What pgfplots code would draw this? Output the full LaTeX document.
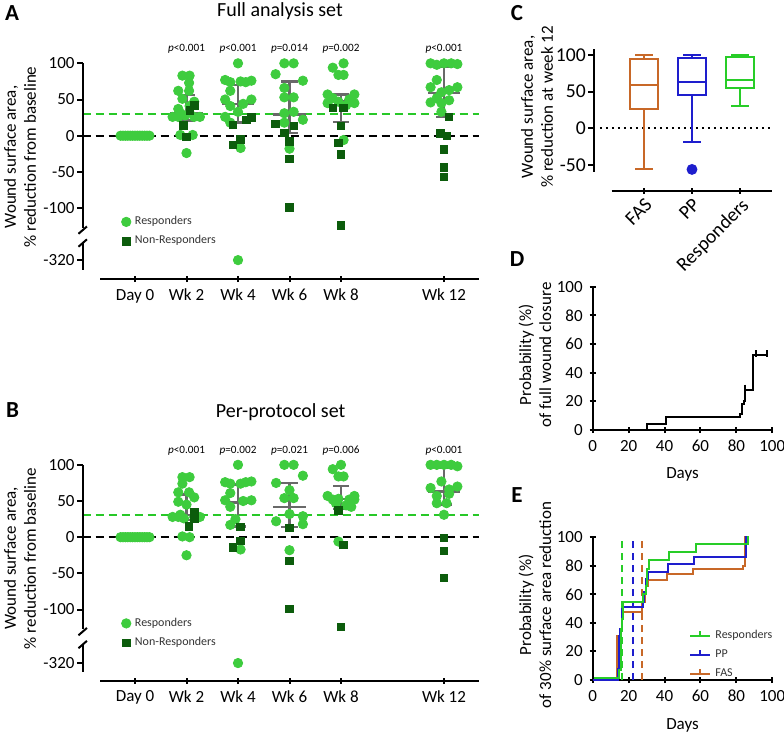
\documentclass[border=0pt]{standalone}
\usepackage{fontspec}
\setmainfont{Carlito}
\usepackage{pgfplots}
\usepackage{pgfplotstable}
\pgfplotsset{compat=1.18}
\usepgfplotslibrary{statistics}

\definecolor{resp}{RGB}{62,204,62}
\definecolor{nonresp}{RGB}{12,92,12}
\definecolor{dashgreen}{RGB}{40,200,40}
\definecolor{errgrey}{RGB}{105,105,105}
\definecolor{fasorange}{RGB}{200,104,40}
\definecolor{ppblue}{RGB}{30,30,205}
\definecolor{rgreen}{RGB}{40,205,40}

\newcommand\ftick{\fontsize{8.5}{10}\selectfont}
\newcommand\ftickC{\fontsize{9.8}{11}\selectfont}
\newcommand\flab{\fontsize{8.5}{10}\selectfont}
\newcommand\fsmall{\fontsize{6}{7.2}\selectfont}
\newcommand\fp{\fontsize{5.6}{6.5}\selectfont}
\newcommand\ftitle{\fontsize{10}{12}\selectfont}
\newcommand\fletter{\fontsize{11.5}{13}\selectfont\bfseries}

% 1 px of the reference = 0.5pt
\pgfplotsset{
  prism/.style={scale only axis, clip=false,
    tick style={line width=1pt,black},
    tick align=outside, major tick length=3pt,
    /pgf/number format/assume math mode=true},
  swarm/.style={prism, anchor=south west,
    width=189.5pt, height=107.83pt,
    xmin=-0.68, xmax=6.68, ymin=-198.1, ymax=100,
    axis x line=bottom, axis y line=none, ytick=\empty,
    axis line style={line width=1pt,-},
    xtick={0,1,2,3,4,6},
    xticklabels={Day 0,Wk 2,Wk 4,Wk 6,Wk 8,Wk 12},
    xticklabel style={font=\ftick},
    legend style={draw=none, fill=none, font=\fsmall, text=black!80,
      at={(0.04,0.33)}, anchor=north west, row sep=0pt},
    legend cell align=left,
    legend image code/.code={\draw[##1] plot coordinates {(0.1cm,0cm)};}},
  km/.style={prism, anchor=south west, width=89.8pt,
    xmin=0, xmax=100, ymin=0, ymax=100, axis lines=left,
    axis line style={line width=1pt,-},
    xtick={0,20,...,100}, ytick={0,20,...,100},
    tick label style={font=\ftick}},
  medbar/.style={forget plot, draw=none, mark=none,
    error bars/error mark=none,
    error bars/error bar style={draw=errgrey, line width=1.25pt, solid}},
}

% broken y axis of panels A and B (#1 = position of -320)
\newcommand\brokenY[1]{%
  \draw[line width=1pt] (axis cs:-1.016,100) -- (axis cs:-1.016,-127.6);
  \draw[line width=1pt] (axis cs:-1.016,-148.8) -- (axis cs:-1.016,-185.7);
  \draw[line width=1pt] (axis cs:-1.098,-135.6) -- (axis cs:-0.934,-125.5);
  \draw[line width=1pt] (axis cs:-1.098,-153.5) -- (axis cs:-0.934,-143.3);
  \pgfplotsinvokeforeach{100,50,0,-50,-100}{%
    \draw[line width=1pt] (axis cs:-1.016,##1) -- ++(-3pt,0pt)
      node[left,inner sep=0.6pt,font=\ftick]{##1};}
  \draw[line width=1pt] (axis cs:-1.016,#1) -- ++(-3pt,0pt)
    node[left,inner sep=0.6pt,font=\ftick]{-320};
}
% median line, whisker and caps from a table x m lo hi
\newcommand\medbars[1]{%
  \addplot[medbar, error bars/y dir=both, error bars/y explicit]
    table[x=x, y=m, y error plus expr=\thisrow{hi}-\thisrow{m},
          y error minus expr=\thisrow{m}-\thisrow{lo}] {#1};
  \addplot[medbar, error bars/x dir=both, error bars/x fixed=0.32] table[x=x, y=m] {#1};
  \addplot[medbar, error bars/x dir=both, error bars/x fixed=0.16] table[x=x, y=hi] {#1};
  \addplot[medbar, error bars/x dir=both, error bars/x fixed=0.16] table[x=x, y=lo] {#1};
}

% ---------- panel A : full analysis set (-320 drawn at -172 on the broken axis)
\pgfplotstableread{
x y
-0.28 0
-0.233 0
-0.187 0
-0.14 0
-0.093 0
-0.047 0
0 0
0.047 0
0.093 0
0.14 0
0.187 0
0.233 0
0.28 0
0.92 83
1.06 83
1.05 73
0.84 62
1.05 62
0.92 51
1.15 47
1.06 41
0.84 37
0.73 26
0.84 26
0.97 28
1.15 26
1.26 26
0.88 31
0.88 1
1.12 1
1.0 -24
2.0 100
1.75 77
1.85 74
2.05 75
2.15 74
2.26 76
1.85 62
1.75 50
2.26 50
2.1 44
1.85 41
2.0 33
1.75 26
1.85 18
2.05 -17
2.0 -172
2.9 100
3.08 100
2.73 85
3.26 76
2.9 66
2.9 53
3.08 53
2.9 31
3.08 33
3.26 22
2.9 18
3.0 -18
4.05 100
3.84 94
3.95 84
4.05 84
3.74 57
4.26 57
3.84 52
4.16 50
3.74 45
4.26 45
3.95 47
4.1 42
4.05 -6
5.74 100
5.86 98
6.0 100
6.14 100
6.26 99
5.86 77
5.74 67
6.26 67
6.1 63
5.95 60
5.86 52
6.1 49
5.74 46
5.95 45
5.95 33
}\respA
\pgfplotstableread{
x y
1.15 42
1.06 35
0.94 14
1.0 -2
2.26 25
2.16 22
1.9 15
2.05 -5
1.9 -13
2.73 16
3.08 13.5
2.9 4
3.0 -8
3.0 -32
3.0 -99
3.84 38
4.05 38
4.0 13.5
3.95 -10
4.0 -26
4.0 -124
6.1 26
5.93 3
6.06 -0.5
6.0 -19
6.0 -44
6.0 -57
}\nonA
\pgfplotstableread{
x m lo hi
1 31 21 56
2 44 18 70
3 29 4 75
4 48 19 57
6 59 26 95
}\errA

% ---------- panel B : per-protocol set (-320 drawn at -174)
\pgfplotstableread{
x y
-0.28 0
-0.233 0
-0.187 0
-0.14 0
-0.093 0
-0.047 0
0 0
0.047 0
0.093 0
0.14 0
0.187 0
0.233 0
0.28 0
0.92 83
1.06 83
0.92 74
0.84 62
1.05 62
1.15 55
0.84 49
1.0 45
0.73 28
0.84 28
0.95 26
1.15 28
1.26 28
0.88 31
0.92 1
1.06 0
1.0 -25
2.0 100
1.75 76
1.85 74
2.15 76
2.26 77
2.05 74
1.85 61
1.75 51
2.26 51
2.1 50
1.85 42
1.95 25
1.85 17
2.05 -17
2.0 -174
2.9 100
3.08 100
3.26 85
2.74 75
3.0 65
2.9 54
3.08 54
3.0 32
3.26 29
2.74 22
3.26 18
3.0 -18
4.0 100
3.84 94
3.95 84
4.05 84
3.74 57
4.26 57
3.84 52
3.95 53
4.16 52
4.26 52
3.9 47
4.1 44
4.2 42
3.95 -6
5.74 100
5.86 100
6.0 100
6.14 100
6.26 98
5.95 77
5.74 68
6.26 70
6.1 66
5.86 57
6.1 60
5.86 47
6.05 47
6.0 31
}\respB
\pgfplotstableread{
x y
1.15 34
1.15 25
1.05 15
2.05 14
2.05 -5
1.9 -14
3.0 13
3.0 -33
3.0 -99
3.95 37
4.05 -11
4.0 -124
6.0 -1
6.0 -19
6.0 -56
}\nonB
\pgfplotstableread{
x m lo hi
1 31 24 59
2 48 15 73
3 42 14 75
4 53 39 71
6 63 45 96
}\errB

\begin{document}
\begin{tikzpicture}
\useasboundingbox (0pt,0pt) rectangle (392pt,-367pt);

%%%%%%%% A
\begin{axis}[swarm, at={(50pt,-139.5pt)}]
\addplot[forget plot, dashgreen, line width=1pt, dash pattern=on 4pt off 2.5pt]
  coordinates {(-1.016,30) (6.68,30)};
\addplot[forget plot, black, line width=1pt, dash pattern=on 4pt off 2.5pt]
  coordinates {(-1.016,0) (6.68,0)};
\addplot[only marks, mark=*, mark size=2.35pt, resp, mark options={draw=resp,fill=resp}]
  table[x=x,y=y] {\respA};
\addplot[only marks, mark=square*, mark size=1.85pt, nonresp, mark options={draw=nonresp,fill=nonresp}]
  table[x=x,y=y] {\nonA};
\medbars{\errA}
\legend{Responders,Non-Responders}
\brokenY{-172}
\node[font=\fp] at (axis cs:1,120) {\textit{p}<0.001};
\node[font=\fp] at (axis cs:2,120) {\textit{p}<0.001};
\node[font=\fp] at (axis cs:3,120) {\textit{p}=0.014};
\node[font=\fp] at (axis cs:4,120) {\textit{p}=0.002};
\node[font=\fp] at (axis cs:6,120) {\textit{p}<0.001};
\end{axis}

%%%%%%%% B
\begin{axis}[swarm, at={(50pt,-340.25pt)}]
\addplot[forget plot, dashgreen, line width=1pt, dash pattern=on 4pt off 2.5pt]
  coordinates {(-1.016,30) (6.68,30)};
\addplot[forget plot, black, line width=1pt, dash pattern=on 4pt off 2.5pt]
  coordinates {(-1.016,0) (6.68,0)};
\addplot[only marks, mark=*, mark size=2.35pt, resp, mark options={draw=resp,fill=resp}]
  table[x=x,y=y] {\respB};
\addplot[only marks, mark=square*, mark size=1.85pt, nonresp, mark options={draw=nonresp,fill=nonresp}]
  table[x=x,y=y] {\nonB};
\medbars{\errB}
\legend{Responders,Non-Responders}
\brokenY{-174}
\node[font=\fp] at (axis cs:1,120) {\textit{p}<0.001};
\node[font=\fp] at (axis cs:2,120) {\textit{p}=0.002};
\node[font=\fp] at (axis cs:3,120) {\textit{p}=0.021};
\node[font=\fp] at (axis cs:4,120) {\textit{p}=0.006};
\node[font=\fp] at (axis cs:6,120) {\textit{p}<0.001};
\end{axis}

%%%%%%%% C
\begin{axis}[prism, anchor=south west, at={(305.85pt,-95.35pt)},
  width=80.3pt, height=70.8pt,
  xmin=0.33, xmax=3.67, ymin=-85, ymax=108,
  axis x line=bottom, axis y line=none, ytick=\empty,
  axis line style={line width=1pt,-},
  xtick={1,2,3}, xticklabels={FAS,PP,Responders},
  xticklabel style={rotate=45, anchor=north east, font=\ftickC, inner sep=1pt},
  boxplot/draw direction=y,
  boxplot/box extend=0.59, boxplot/whisker extend=0.37]
\addplot[forget plot, black, line width=1pt, dash pattern=on 1pt off 2pt]
  coordinates {(0.086,0) (3.67,0)};
\addplot[fasorange, line width=1pt, boxplot prepared={draw position=1,
  median=59, upper quartile=95, lower quartile=27,
  upper whisker=100, lower whisker=-56}] coordinates {};
\addplot[ppblue, line width=1pt, mark=*, mark size=2.2pt,
  mark options={fill=ppblue, draw=ppblue},
  boxplot prepared={draw position=2,
  median=63, upper quartile=96, lower quartile=46,
  upper whisker=100, lower whisker=-19}]
  table[row sep=\\, y index=0] {y\\ -56\\};
\addplot[rgreen, line width=1pt, boxplot prepared={draw position=3,
  median=66, upper quartile=97, lower quartile=55,
  upper whisker=100, lower whisker=31}] coordinates {};
\draw[line width=1pt] (axis cs:-0.039,108) -- (axis cs:-0.039,-59);
\pgfplotsinvokeforeach{100,50,0,-50}{%
  \draw[line width=1pt] (axis cs:-0.039,#1) -- ++(-3pt,0pt)
    node[left,inner sep=0.6pt,font=\ftickC]{#1};}
\end{axis}

%%%%%%%% D
\begin{axis}[km, at={(296.35pt,-215pt)}, height=71.65pt]
\addplot[const plot, black, line width=1pt] coordinates {
  (0,0) (30,4.5) (41,9) (82,11) (83,18) (84,20) (85,28) (89,52) (97,52)};
\addplot[only marks, black, mark=|, mark size=1.6pt, mark options={line width=1pt}]
  coordinates {(85,29.5) (91,53.5) (97,53.5)};
\end{axis}

%%%%%%%% E
\begin{axis}[km, at={(296.35pt,-340pt)}, height=71.35pt,
  legend style={draw=none, fill=none, font=\fsmall, text=black!80,
    at={(0.503,0.406)}, anchor=north west, row sep=0pt},
  legend cell align=left, reverse legend,
  legend image code/.code={\draw[#1, line width=1pt] (0pt,0pt) -- (10pt,0pt);
    \draw[#1, line width=1pt] (5pt,0pt) -- (5pt,2.5pt);}]
\addplot[forget plot, fasorange, line width=1pt, dash pattern=on 3.5pt off 2.5pt]
  coordinates {(27.3,0) (27.3,100)};
\addplot[forget plot, ppblue, line width=1pt, dash pattern=on 3.5pt off 2.5pt]
  coordinates {(22.3,0) (22.3,100)};
\addplot[forget plot, rgreen, line width=1pt, dash pattern=on 3.5pt off 2.5pt]
  coordinates {(16.1,0) (16.1,100)};
\addplot[const plot, fasorange, line width=1pt] coordinates {
  (0,0) (13.4,31) (15.2,36) (16.1,48) (27.3,52) (28.2,55) (29.1,62) (29.7,66)
  (31,70) (41.2,74) (56,78) (83.9,80) (84.8,100) (85.5,100)};
\addplot[const plot, ppblue, line width=1pt] coordinates {
  (0,0) (13.9,8) (14.5,31) (15.2,36) (16.1,50) (16.7,51) (27.8,55) (28.8,62)
  (29.5,71) (30.6,76) (41.7,81) (56.6,86) (85.3,100) (86,100)};
\addplot[const plot, rgreen, line width=1pt] coordinates {
  (0.7,1.5) (14.6,7) (15.5,36) (16.4,43) (17,55) (28.2,60) (29.5,66) (30.4,78)
  (31.3,84) (42.5,90) (57.3,95.5) (86.3,100) (86.8,100)};
\legend{FAS,PP,Responders}
\end{axis}

%%%%%%%% titles, labels, panel letters
\node[font=\fletter] at (6pt,-6.5pt) {A};
\node[font=\fletter] at (6.3pt,-205pt) {B};
\node[font=\fletter] at (258.5pt,-6.5pt) {C};
\node[font=\fletter] at (258.5pt,-129.5pt) {D};
\node[font=\fletter] at (258.5pt,-247.5pt) {E};
\node[font=\ftitle] at (140pt,-5.35pt) {Full analysis set};
\node[font=\ftitle] at (140.3pt,-206.2pt) {Per-protocol set};
\node[font=\flab, rotate=90, align=center] at (10pt,-78.5pt)
  {Wound surface area,\\\% reduction from baseline};
\node[font=\flab, rotate=90, align=center] at (10pt,-279.25pt)
  {Wound surface area,\\\% reduction from baseline};
\node[font=\flab, rotate=90, align=center] at (268.5pt,-53.5pt)
  {Wound surface area,\\\% reduction at week 12};
\node[font=\flab, rotate=90, align=center] at (267.5pt,-177.5pt)
  {Probability (\%)\\of full wound closure};
\node[font=\flab, rotate=90, align=center] at (267.5pt,-302.5pt)
  {Probability (\%)\\of 30\% surface area reduction};
\node[font=\flab] at (341.25pt,-237pt) {Days};
\node[font=\flab] at (341.25pt,-362.6pt) {Days};
\end{tikzpicture}
\end{document}
